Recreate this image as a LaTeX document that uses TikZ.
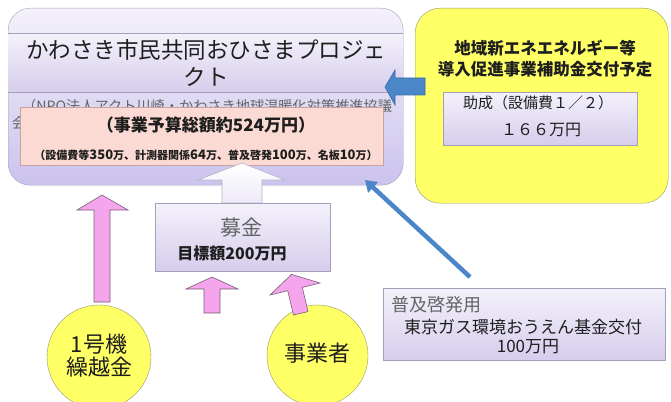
\documentclass[tikz,border=0pt]{standalone}
\usepackage{fontspec}
\setmainfont{Noto Sans CJK JP}
\usetikzlibrary{arrows.meta,shapes.geometric}
\definecolor{lavtop}{RGB}{244,241,251}
\definecolor{lavbot}{RGB}{214,205,236}
\definecolor{boxline}{RGB}{165,160,185}
\definecolor{yel}{RGB}{255,255,102}
\definecolor{yelline}{RGB}{150,150,110}
\definecolor{pinkfill}{RGB}{252,218,212}
\definecolor{pinkline}{RGB}{205,160,160}
\definecolor{magfill}{RGB}{245,165,235}
\definecolor{magline}{RGB}{120,95,120}
\definecolor{bluearr}{RGB}{75,135,200}
\definecolor{blueline}{RGB}{55,105,165}
\definecolor{graytext}{RGB}{100,100,100}
\definecolor{darktext}{RGB}{30,30,30}
\begin{document}
\begin{tikzpicture}[x=1pt,y=-1pt,
  lavbox/.style={draw=boxline, top color=lavtop, bottom color=lavbot, inner sep=0pt, anchor=north west},
  yelbox/.style={draw=yelline, fill=yel, rounded corners=25pt, inner sep=0pt, anchor=north west},
  yelcirc/.style={draw=yelline, fill=yel, circle, inner sep=0pt},
  magarrow/.style={draw=magline, fill=magfill, line width=0.6pt, line join=miter},
  bluearrow/.style={draw=blueline, fill=bluearr, line width=0.6pt},
  whitearrow/.style={draw=boxline!80, top color=white, bottom color=lavtop!80!lavbot, line width=0.6pt},
  txt/.style={text=darktext, inner sep=0pt}
]
\path[use as bounding box, fill=white] (0,0) rectangle (671,401);

% main project box
\node[draw=boxline, rounded corners=22pt, top color=lavtop, bottom color=lavbot!95!blue, minimum width=395pt, minimum height=177pt, inner sep=0pt, anchor=north west] (main) at (8,8) {};
\node[lavbox, draw=none, top color=lavtop, bottom color=lavbot, minimum width=395pt, minimum height=59pt] (band) at (8,33) {};
\draw[boxline] (band.north west) -- (band.north east);
\draw[boxline] (band.south west) -- (band.south east);
\node[txt, font=\fontsize{22.5}{27.5}\selectfont, align=center] (title) at (206,63) {かわさき市民共同おひさまプロジェ\\クト};

% partly hidden text
\node[txt, text=graytext, anchor=west, font=\fontsize{14.2}{16}\selectfont] (npo) at (22,106) {（NPO法人アクト川崎・かわさき地球温暖化対策推進協議};
\node[txt, text=graytext, anchor=west, font=\fontsize{14.2}{16}\selectfont] (npo2) at (12,123) {会）};

% budget box
\node[draw=pinkline, fill=pinkfill, minimum width=363pt, minimum height=58pt, inner sep=0pt, anchor=north west] (budget) at (20,107) {};
\node[txt, font=\bfseries\fontsize{17}{20}\selectfont] (btitle) at (206,125) {（事業予算総額約524万円）};
\node[txt, font=\bfseries\fontsize{11}{13}\selectfont] (bdetail) at (206,155) {（設備費等{\fontsize{13}{13}\selectfont 350}万、計測器関係{\fontsize{13}{13}\selectfont 64}万、普及啓発{\fontsize{13}{13}\selectfont 100}万、名板{\fontsize{13}{13}\selectfont 10}万）};

% yellow subsidy box
\node[yelbox, minimum width=253pt, minimum height=195pt] (subsidy) at (415,8) {};
\node[txt, font=\bfseries\fontsize{16.5}{21}\selectfont, align=center] (stitle) at (545,59) {地域新エネエネルギー等\\導入促進事業補助金交付予定};
\node[lavbox, minimum width=194pt, minimum height=53pt] (grant) at (443,92) {};
\node[txt, font=\fontsize{15}{17}\selectfont] (grant1) at (538,103) {助成（設備費１／２）};
\node[txt, font=\fontsize{16}{18}\selectfont] (grant2) at (541,130) {１６６万円};

% blue block arrow from subsidy to main
\path[bluearrow] (385,87) -- (395,70) -- (395,78) -- (425,78) -- (425,95) -- (395,95) -- (395,105) -- cycle;

% white block arrow from fundraising to main
\path[whitearrow] (242,163) -- (285,180) -- (262,180) -- (262,203) -- (222,203) -- (222,180) -- (198,180) -- cycle;

% fundraising box
\node[lavbox, minimum width=175pt, minimum height=68pt] (bokin) at (155,203) {};
\node[txt, text=graytext, font=\fontsize{21}{24}\selectfont] (bokin1) at (241,228) {募金};
\node[txt, font=\bfseries\fontsize{16}{18}\selectfont] (bokin2) at (232,253) {目標額200万円};

% left pink arrow and circle
\path[magarrow] (102,195) -- (128,210) -- (110,210) -- (110,302) -- (94,302) -- (94,210) -- (77,210) -- cycle;
\node[yelcirc, minimum size=104pt] (carry) at (99,357) {};
\node[txt, font=\fontsize{22}{23}\selectfont, align=center] (carrytxt) at (99,356) {1号機\\繰越金};

% middle pink arrow
\path[magarrow] (212,277) -- (238,289) -- (220,289) -- (220,313) -- (204,313) -- (204,289) -- (186,289) -- cycle;

% business circle and slanted arrow
\node[yelcirc, minimum size=101pt] (biz) at (317.5,355.5) {};
\node[txt, font=\fontsize{22}{24}\selectfont] (biztxt) at (317,353) {事業者};
\path[magarrow] (291.5,274.4) -- (320,283) -- (302.3,287.3) -- (308,311.6) -- (293.5,315) -- (287.7,290.7) -- (270,295) -- cycle;

% Tokyo Gas box
\node[lavbox, minimum width=282pt, minimum height=72pt] (gas) at (383,288) {};
\node[txt, text=graytext, anchor=west, font=\fontsize{18}{20}\selectfont] (gas1) at (391,305) {普及啓発用};
\node[txt, font=\fontsize{17}{19}\selectfont] (gas2) at (523,327) {東京ガス環境おうえん基金交付};
\node[txt, font=\fontsize{17}{19}\selectfont] (gas3) at (528,347) {100万円};

% blue diagonal arrow
\coordinate (gastail) at (470,277);
\coordinate (mainhit) at (365,180);
\draw[bluearr, line width=4.5pt, -{Triangle[length=11pt,width=14pt]}] (gastail) -- (mainhit);
\end{tikzpicture}
\end{document}
